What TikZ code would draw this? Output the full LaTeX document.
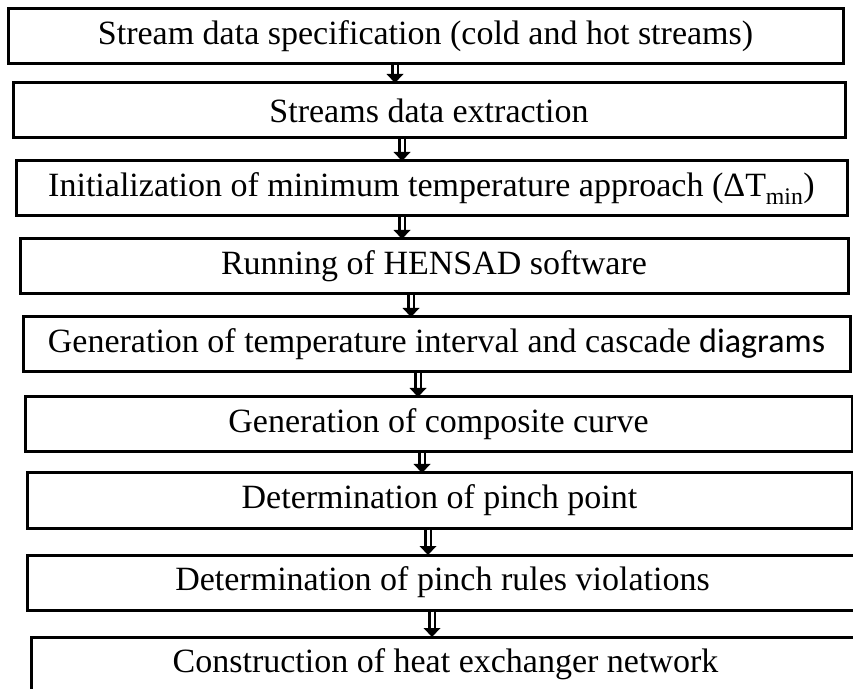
\documentclass[tikz,border=0pt]{standalone}
\usepackage{fontspec}
\setmainfont{Liberation Serif}
\newfontfamily\calibrifont{Carlito}
\usetikzlibrary{calc}
\tikzset{
  stepbox/.style={draw, line width=3pt, rectangle, inner sep=0pt, outer sep=0pt,
    minimum height=55pt, font=\fontsize{34}{40}\selectfont},
  shaftouter/.style={line width=8.5pt, black},
  shaftinner/.style={line width=3pt, white},
  tiphead/.style={fill=black},
}
\newcommand\flowarrow[3]{%
  \draw[shaftouter] (#1.south -| #3) -- ($(#2.north -| #3)+(0,8)$);
  \draw[shaftinner] ($(#1.south -| #3)+(0,-1.5)$) -- ($(#2.north -| #3)+(0,8)$);
  \fill[tiphead] ($(#2.north -| #3)+(-8.5,9)$) -- (#2.north -| #3) -- ($(#2.north -| #3)+(8.5,9)$) -- cycle;
}
\begin{document}
\begin{tikzpicture}[x=1pt,y=1pt]
  \fill[white] (0,0) rectangle (853,688);
  \useasboundingbox (0,0) rectangle (853,688);
  \node[stepbox, minimum width=835pt] (b1) at (425.5,651.5) {Stream data specification (cold and hot streams)};
  \node[stepbox, minimum width=832pt] (b2) at (429,577.5) {Streams data extraction};
  \node[stepbox, minimum width=831pt] (b3) at (431.5,499.5) {Initialization of minimum temperature approach (ΔT\textsubscript{min})};
  \node[stepbox, minimum width=828pt] (b4) at (434,421.5) {Running of HENSAD software};
  \node[stepbox, minimum width=827pt] (b5) at (436.5,343.5) {Generation of temperature interval and cascade {\calibrifont diagrams}};
  \node[stepbox, minimum width=827pt] (b6) at (438.5,263.5) {Generation of composite curve};
  \node[stepbox, minimum width=825pt] (b7) at (439.5,187.5) {Determination of pinch point};
  \node[stepbox, minimum width=831pt] (b8) at (442.5,105.5) {Determination of pinch rules violations};
  \node[stepbox, minimum width=829pt] (b9) at (445.5,23.5) {Construction of heat exchanger network};
  \coordinate (ax1) at (395,0);
  \coordinate (ax2) at (402,0);
  \coordinate (ax3) at (402,0);
  \coordinate (ax4) at (411,0);
  \coordinate (ax5) at (418,0);
  \coordinate (ax6) at (422,0);
  \coordinate (ax7) at (428,0);
  \coordinate (ax8) at (432,0);
  \flowarrow{b1}{b2}{ax1}
  \flowarrow{b2}{b3}{ax2}
  \flowarrow{b3}{b4}{ax3}
  \flowarrow{b4}{b5}{ax4}
  \flowarrow{b5}{b6}{ax5}
  \flowarrow{b6}{b7}{ax6}
  \flowarrow{b7}{b8}{ax7}
  \flowarrow{b8}{b9}{ax8}
\end{tikzpicture}
\end{document}
